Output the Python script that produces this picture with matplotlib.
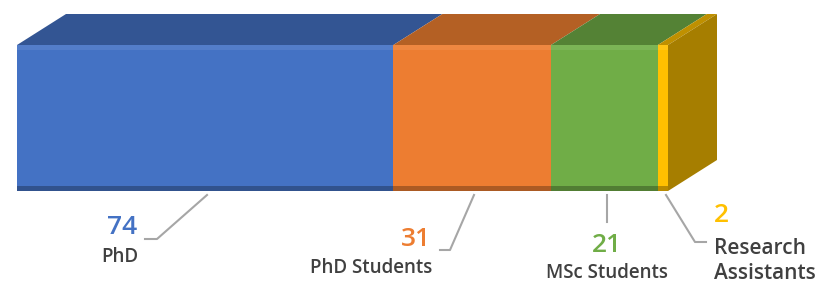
import matplotlib
import matplotlib.pyplot as plt
import numpy as np
from matplotlib.colors import to_rgb
from matplotlib.patches import Polygon

matplotlib.use('Agg')

# data
categories = ['PhD', 'PhD Students', 'MSc Students', 'Research\nAssistants']
values = [74, 31, 21, 2]
colors = ['#4472C4', '#ED7D31', '#70AD47', '#FFC000']
top_colors = ['#335593', '#B46024', '#548235', '#BF9000']
side_color = '#A67E00'


def shade(c, f):
	r, g, b = to_rgb(c)
	if f < 1:
		return (r * f, g * f, b * f)
	return (r + (1 - r) * (f - 1), g + (1 - g) * (f - 1), b + (1 - b) * (f - 1))


W, H = 821, 286
fig = plt.figure(figsize=(W / 100, H / 100), dpi=100)
ax = fig.add_axes([0, 0, 1, 1])

total = sum(values)
px_per_unit = 651 / total
x_left = -17 / px_per_unit
ax.set_xlim(x_left, x_left + W / px_per_unit)
ax.set_ylim(H, 0)
ax.axis('off')

# bar geometry (y in pixels, x in value units)
y_top, y_bot = 45, 191
depth_x = 49 / px_per_unit
depth_y = -31

lefts = np.concatenate([[0], np.cumsum(values)[:-1]])
rights = lefts + np.array(values)

for i, (l, v) in enumerate(zip(lefts, values)):
	# front face
	ax.barh((y_top + y_bot) / 2, v, left=l, height=y_bot - y_top, color=colors[i], linewidth=0, zorder=2)
	# light rim at top and dark rim at bottom
	ax.barh(y_top + 2.5, v, left=l, height=5, color=shade(colors[i], 1.08), linewidth=0, zorder=3)
	ax.barh(y_bot - 2.5, v, left=l, height=5, color=shade(colors[i], 0.72), linewidth=0, zorder=3)
	# top face
	r = l + v
	top = Polygon([(l, y_top), (r, y_top), (r + depth_x, y_top + depth_y), (l + depth_x, y_top + depth_y)],
				  closed=True, facecolor=top_colors[i], edgecolor='none', zorder=1)
	ax.add_patch(top)

# right side face
r = rights[-1]
side = Polygon([(r, y_top), (r + depth_x, y_top + depth_y), (r + depth_x, y_bot + depth_y), (r, y_bot)],
			   closed=True, facecolor=side_color, edgecolor='none', zorder=1)
ax.add_patch(side)

# labels
u = 1 / px_per_unit
lab = [
	dict(vx=137, vy=228, vha='right', cx=120, cy=257, cha='center', cs=13.5,
		 line=[(207, 195), (157, 239), (145, 239)]),
	dict(vx=431, vy=239, vha='right', cx=371, cy=268, cha='center', cs=13.5,
		 line=[(474, 195), (450, 250), (440, 250)]),
	dict(vx=607, vy=245, vha='center', cx=607, cy=273, cha='center', cs=13.5,
		 line=[(607, 195), (607, 222)]),
	dict(vx=714, vy=215, vha='left', cx=714, cy=261, cha='left', cs=15,
		 line=[(666, 195), (695, 242), (706, 242)]),
]

for i, d in enumerate(lab):
	ax.text(d['vx'] * u + x_left, d['vy'], str(values[i]), color=colors[i], fontsize=19,
			fontfamily='Open Sans', fontweight='semibold', ha=d['vha'], va='center')
	ax.text(d['cx'] * u + x_left, d['cy'], categories[i], color='#404040', fontsize=d['cs'],
			fontfamily='Open Sans', fontweight='semibold', ha=d['cha'], va='center', linespacing=1.3)
	xs = [p[0] * u + x_left for p in d['line']]
	ys = [p[1] for p in d['line']]
	ax.plot(xs, ys, color='#A6A6A6', linewidth=1.5, zorder=1)

fig.savefig('out.png', dpi=100)
